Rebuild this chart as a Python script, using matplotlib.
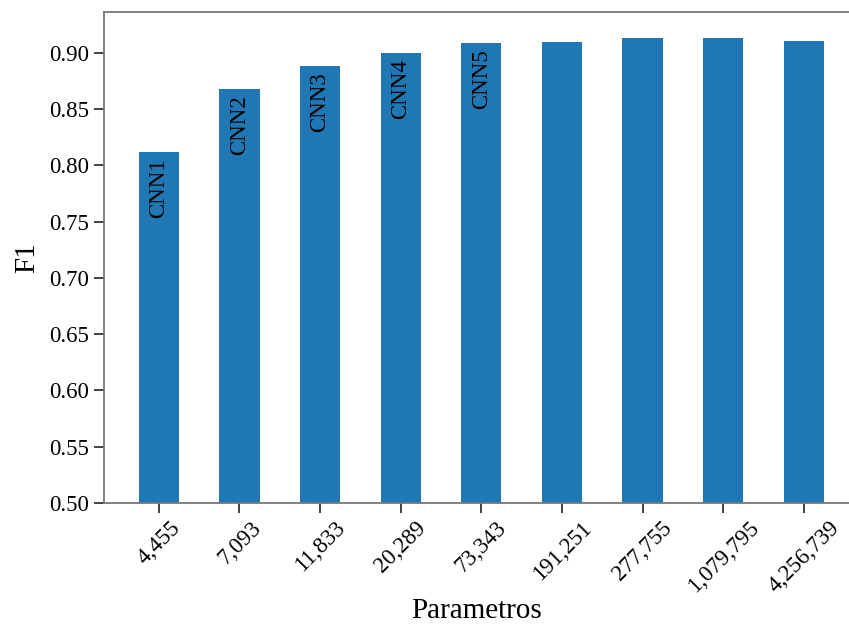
import numpy as np
import matplotlib.pyplot as plt

# parameter counts per model and the F1 each one reached
params = ['4,455', '7,093', '11,833', '20,289', '73,343',
          '191,251', '277,755', '1,079,795', '4,256,739']
f1 = [0.812, 0.868, 0.888, 0.900, 0.909, 0.910, 0.913, 0.913, 0.911]
names = ['CNN1', 'CNN2', 'CNN3', 'CNN4', 'CNN5']

plt.rcParams['font.family'] = ['Liberation Serif', 'DejaVu Serif']

fig = plt.figure(figsize=(8.49, 6.27), dpi=100)
ax = fig.add_axes([0.1225, 0.198, 0.8775, 0.783])

x = np.arange(len(params))
ax.bar(x, f1, width=0.5, color='#1f77b4')

# model names written inside the first bars
for i, name in enumerate(names):
    ax.text(x[i], f1[i] - 0.0055, name, rotation=90, ha='center', va='top',
            fontsize=16.5, color='black')

ax.set_ylim(0.5, 0.9365)
ax.set_xlim(-0.68, 8.56)
ax.set_xticks(x)
ax.set_xticklabels(params, rotation=45)
ax.set_yticks(np.arange(0.50, 0.91, 0.05))
ax.set_yticklabels([f"{v:.2f}" for v in np.arange(0.50, 0.91, 0.05)])
ax.tick_params(labelsize=16.5, length=7, width=1.2, color='#222222')

ax.set_xlabel('Parametros', fontsize=21, labelpad=1)
ax.set_ylabel('F1', fontsize=21, labelpad=7)

ax.spines['right'].set_visible(False)
for s in ['left', 'top', 'bottom']:
    ax.spines[s].set_color('#777777')
    ax.spines[s].set_linewidth(1.3)

fig.savefig('out.png', dpi=100)
